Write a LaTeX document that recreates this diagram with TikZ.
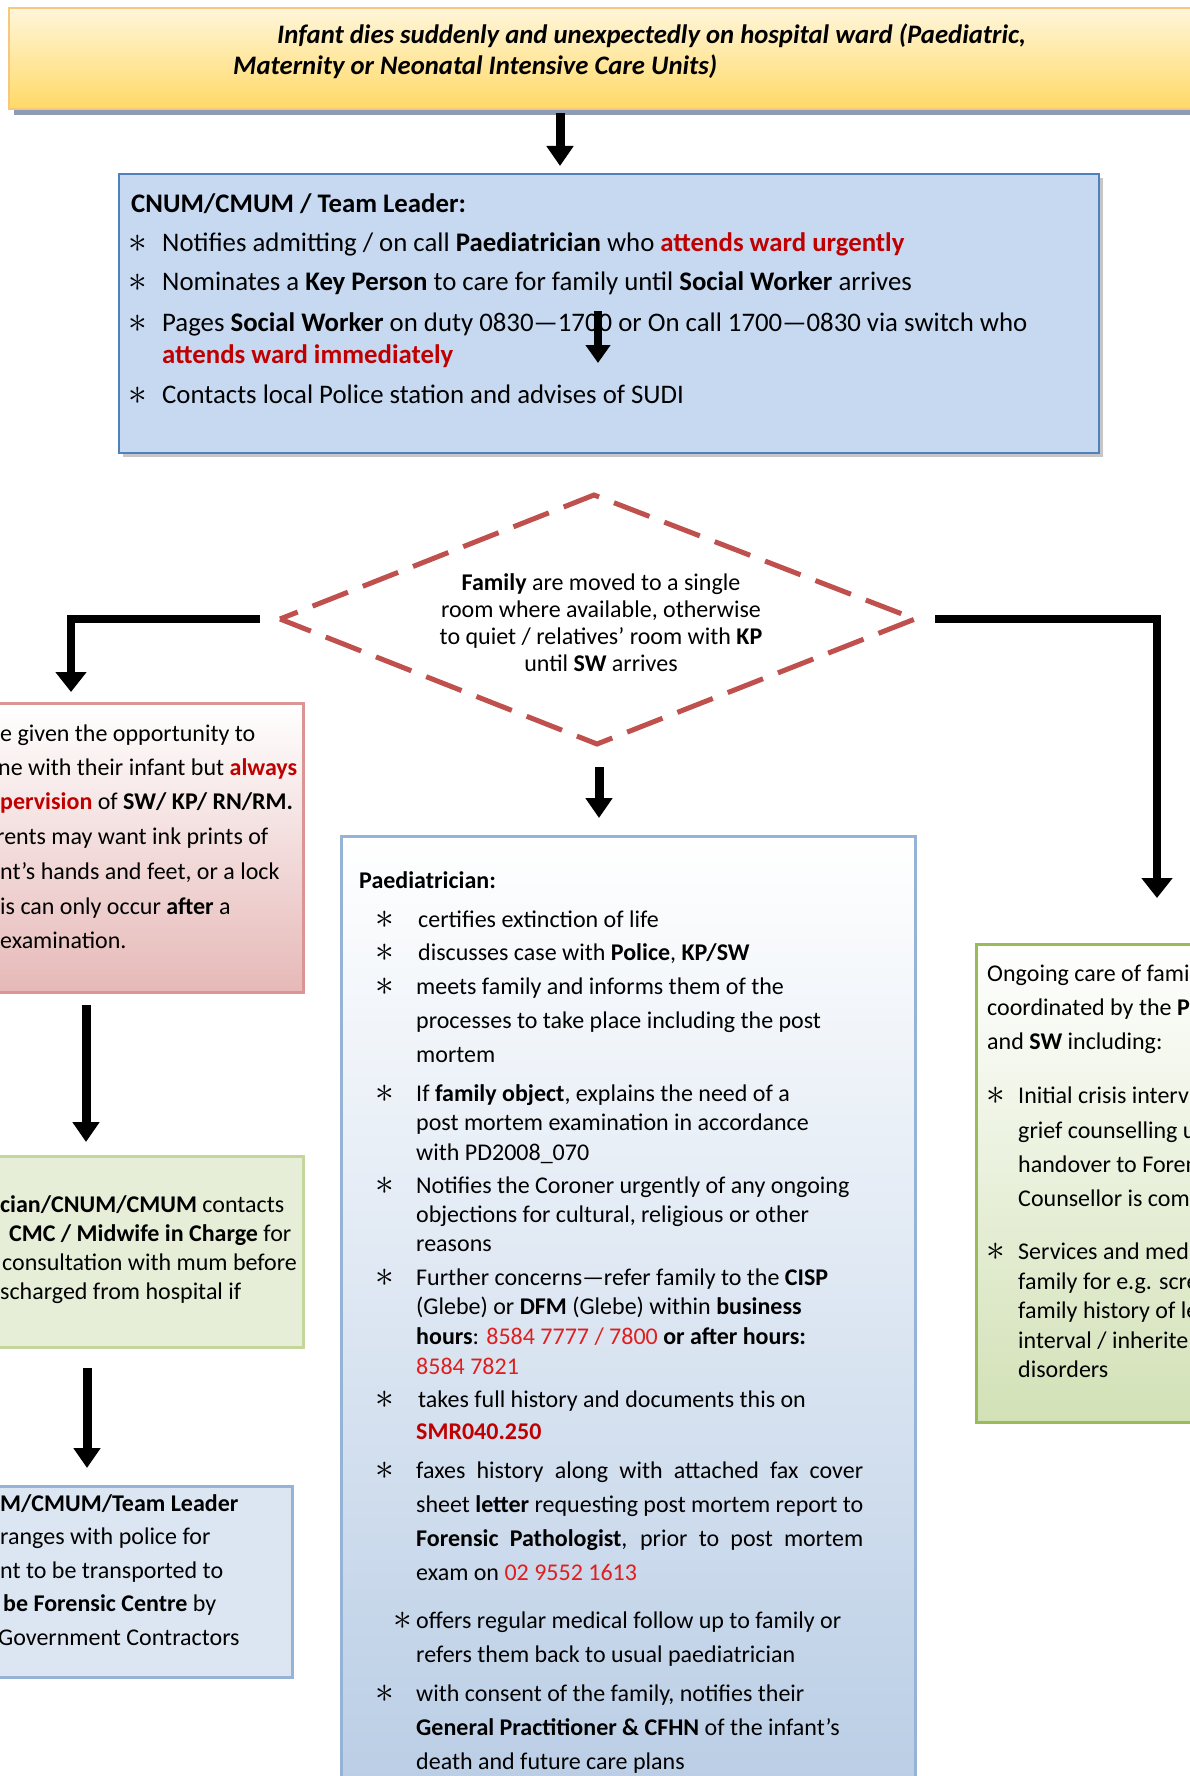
\documentclass[tikz,border=0pt]{standalone}
\usepackage{fontspec}
\setmainfont{Carlito}
\usetikzlibrary{arrows.meta}
\definecolor{redA}{HTML}{C00000}
\definecolor{redB}{HTML}{E01E1E}
\definecolor{dmd}{HTML}{C0504D}
\definecolor{cnumfill}{HTML}{C6D9F1}
\definecolor{cnumline}{HTML}{4F81BD}
\definecolor{lblue}{HTML}{95B3D7}
\definecolor{lbluefill}{HTML}{DCE6F2}
\definecolor{pinkline}{HTML}{D99694}
\definecolor{pinkfill}{HTML}{E6B9B8}
\definecolor{gline}{HTML}{9BBB59}
\definecolor{gline2}{HTML}{C3D69B}
\definecolor{gfill}{HTML}{E6EED8}
\definecolor{gfill2}{HTML}{D2E1B6}
\definecolor{pfill}{HTML}{B9CDE5}
\definecolor{ytop}{HTML}{FFF6DA}
\definecolor{ybot}{HTML}{FFD966}
\definecolor{yline}{HTML}{F8C77E}
\definecolor{shad}{HTML}{8D9CB2}
\newcommand\tx[4]{\node[anchor=base west,inner sep=0pt] (#1) at (#2,#3) {#4};}
\newcommand\bu[3]{\node[anchor=base,inner sep=0pt] (#1) at (#2,#3) {\raisebox{-1pt}{\scalebox{1.5}{$\ast$}}};}
\newcommand\ctx[4]{\node[anchor=base,inner sep=0pt] (#1) at (#2,#3) {#4};}
\newcommand\rb[1]{\textcolor{redA}{\textbf{#1}}}
\newcommand\rn[1]{\textcolor{redB}{#1}}
\tikzset{
  arr/.style={line width=9pt,miter limit=10,-{Triangle[length=20pt,width=26pt]}},
  elb/.style={line width=8pt,line join=miter,-{Triangle[length=20pt,width=30pt]}},
  every node/.style={font=\fontsize{24}{28}\selectfont},
  boxline/.style={line width=3pt}
}
\begin{document}
\begin{tikzpicture}[x=1pt,y=-1pt]
\useasboundingbox (0,0) rectangle (1190,1776);
\clip (0,0) rectangle (1190,1776);
\fill[white] (0,0) rectangle (1190,1776);
% title box
\fill[shad] (14,104) rectangle (1200,115);
\draw[yline,line width=2pt,top color=ytop,bottom color=ybot] (9,8) rectangle (1200,109);
\begin{scope}[every node/.style={font=\fontsize{26.7}{30}\selectfont\bfseries\itshape}]
\tx{t1}{277}{44}{Infant dies suddenly and unexpectedly on hospital ward (Paediatric,}
\tx{t2}{233}{75}{Maternity or Neonatal Intensive Care Units)}
\end{scope}
% arrow 1
\coordinate (a1s) at (560,113);
\coordinate (a1e) at (560,166);
\draw[arr] (a1s) -- (a1e);
% CNUM box
\fill[gray!45] (123,178) rectangle (1103,457);
\draw[cnumline,line width=2pt,fill=cnumfill] (119,174) rectangle (1099,453);
\begin{scope}[every node/.style={font=\fontsize{26.8}{30}\selectfont}]
\tx{c0}{131}{213}{\textbf{CNUM/CMUM / Team Leader:}}
\bu{cb1}{138}{252}\tx{c1}{162}{252}{Notifies admitting / on call \textbf{Paediatrician} who \rb{attends ward urgently}}
\bu{cb2}{138}{291}\tx{c2}{162}{291}{Nominates a \textbf{Key Person} to care for family until \textbf{Social Worker} arrives}
\bu{cb3}{138}{331}\tx{c3}{162}{331}{Pages \textbf{Social Worker} on duty 0830—1700 or On call 1700—0830 via switch who}
\tx{c4}{162}{363}{\rb{attends ward immediately}}
\bu{cb5}{138}{403}\tx{c5}{162}{403}{Contacts local Police station and advises of SUDI}
\end{scope}
\coordinate (a2s) at (598,311);
\coordinate (a2e) at (598,363);
\draw[arr,line width=8pt,-{Triangle[length=18pt,width=24pt]}] (a2s) -- (a2e);
% diamond
\coordinate (dl) at (280,619);
\coordinate (dt) at (594,495);
\coordinate (dr) at (915,619);
\coordinate (db) at (597,744);
\draw[dmd,line width=5pt,dash pattern=on 38pt off 16pt,dash phase=19pt] (dl) -- (dt) -- (dr) -- (db) -- cycle;
\ctx{d1}{601}{590}{\textbf{Family} are moved to a single}
\ctx{d2}{601}{617}{room where available, otherwise}
\ctx{d3}{601}{644}{to quiet / relatives’ room with \textbf{KP}}
\ctx{d4}{601}{671}{until \textbf{SW} arrives}
% elbow arrows
\coordinate (el0) at (260,619);
\coordinate (el1) at (71,619);
\coordinate (el2) at (71,692);
\draw[elb] (el0) -- (el1) -- (el2);
\coordinate (er0) at (935,619);
\coordinate (er1) at (1157,619);
\coordinate (er2) at (1157,898);
\draw[elb] (er0) -- (er1) -- (er2);
% center arrow
\coordinate (a3s) at (599,767);
\coordinate (a3e) at (599,818);
\draw[arr] (a3s) -- (a3e);
% pink box
\draw[pinkline,boxline,top color=white,bottom color=pinkfill] (-10,703) rectangle (303,992);
\tx{p1}{0}{741}{e given the opportunity to}
\tx{p2}{-2}{775}{ne with their infant but \rb{always}}
\tx{p3}{0}{809}{\rb{pervision} of \textbf{SW/ KP/ RN/RM.}}
\tx{p4}{-4}{844}{rents may want ink prints of}
\tx{p5}{0}{879}{nt’s hands and feet, or a lock}
\tx{p6}{0}{914}{is can only occur \textbf{after} a}
\tx{p7}{0}{948}{examination.}
% arrow pink->green
\coordinate (a4s) at (86,1005);
\coordinate (a4e) at (86,1142);
\draw[arr] (a4s) -- (a4e);
% green box left
\draw[gline2,boxline,fill=gfill] (-10,1156) rectangle (303,1347);
\tx{g1}{0}{1212}{\textbf{cian/CNUM/CMUM} contacts}
\tx{g2}{9}{1241}{\textbf{CMC / Midwife in Charge} for}
\tx{g3}{2}{1270}{consultation with mum before}
\tx{g4}{0}{1299}{scharged from hospital if}
% arrow green->blue
\coordinate (a5s) at (87,1368);
\coordinate (a5e) at (87,1468);
\draw[arr] (a5s) -- (a5e);
% blue box left
\draw[lblue,boxline,fill=lbluefill] (-10,1486) rectangle (292,1677);
\tx{b1}{0}{1511}{\textbf{M/CMUM/Team Leader}}
\tx{b2}{0}{1544}{ranges with police for}
\tx{b3}{0}{1578}{nt to be transported to}
\tx{b4}{3}{1611}{\textbf{be Forensic Centre} by}
\tx{b5}{-2}{1645}{Government Contractors}
% paediatrician box
\draw[lblue,boxline,top color=white,bottom color=pfill] (341,836) rectangle (915,1800);
\tx{q0}{359}{888}{\textbf{Paediatrician:}}
\bu{qb1}{385}{927}\tx{q1}{418}{927}{certifies extinction of life}
\bu{qb2}{385}{960}\tx{q2}{418}{960}{discusses case with \textbf{Police}, \textbf{KP/SW}}
\bu{qb3}{385}{994}\tx{q3}{416}{994}{meets family and informs them of the}
\tx{q4}{416}{1028}{processes to take place including the post}
\tx{q5}{416}{1062}{mortem}
\bu{qb6}{385}{1101}\tx{q6}{416}{1101}{If \textbf{family object}, explains the need of a}
\tx{q7}{416}{1130}{post mortem examination in accordance}
\tx{q8}{416}{1160}{with PD2008\_070}
\bu{qb9}{385}{1193}\tx{q9}{416}{1193}{Notifies the Coroner urgently of any ongoing}
\tx{q10}{416}{1222}{objections for cultural, religious or other}
\tx{q11}{416}{1251}{reasons}
\bu{qb12}{385}{1285}\tx{q12}{416}{1285}{Further concerns—refer family to the \textbf{CISP}}
\tx{q13}{416}{1314}{(Glebe) or \textbf{DFM} (Glebe) within \textbf{business}}
\tx{q14}{416}{1344}{\textbf{hours}: \rn{8584 7777 / 7800} \textbf{or after hours:}}
\tx{q15}{416}{1374}{\rn{8584 7821}}
\bu{qb16}{385}{1407}\tx{q16}{418}{1407}{takes full history and documents this on}
\tx{q17}{416}{1439}{\rb{SMR040.250}}
\bu{qb18}{385}{1478}\tx{q18}{416}{1478}{\makebox[447pt][s]{faxes history along with attached fax cover}}
\tx{q19}{416}{1512}{\makebox[447pt][s]{sheet \textbf{letter} requesting post mortem report to}}
\tx{q20}{416}{1546}{\makebox[447pt][s]{\textbf{Forensic Pathologist}, prior to post mortem}}
\tx{q21}{416}{1580}{exam on \rn{02 9552 1613}}
\bu{qb22}{403}{1628}\tx{q22}{416}{1628}{offers regular medical follow up to family or}
\tx{q23}{416}{1662}{refers them back to usual paediatrician}
\bu{qb24}{385}{1701}\tx{q24}{416}{1701}{with consent of the family, notifies their}
\tx{q25}{416}{1735}{\textbf{General Practitioner \& CFHN} of the infant’s}
\tx{q26}{416}{1769}{death and future care plans}
% right green box
\draw[gline,boxline,top color=white,bottom color=gfill2] (976,944) rectangle (1200,1422);
\tx{r1}{987}{981}{Ongoing care of fami}
\tx{r2}{987}{1015}{coordinated by the \textbf{P}}
\tx{r3}{987}{1049}{and \textbf{SW} including:}
\bu{rb4}{996}{1103}\tx{r4}{1018}{1103}{Initial crisis interv}
\tx{r5}{1018}{1138}{grief counselling u}
\tx{r6}{1018}{1172}{handover to Foren}
\tx{r7}{1018}{1206}{Counsellor is com}
\bu{rb8}{996}{1259}\tx{r8}{1018}{1259}{Services and med}
\tx{r9}{1018}{1289}{family for e.g. scre}
\tx{r10}{1018}{1318}{family history of le}
\tx{r11}{1018}{1348}{interval / inherite}
\tx{r12}{1018}{1377}{disorders}
\end{tikzpicture}
\end{document}
